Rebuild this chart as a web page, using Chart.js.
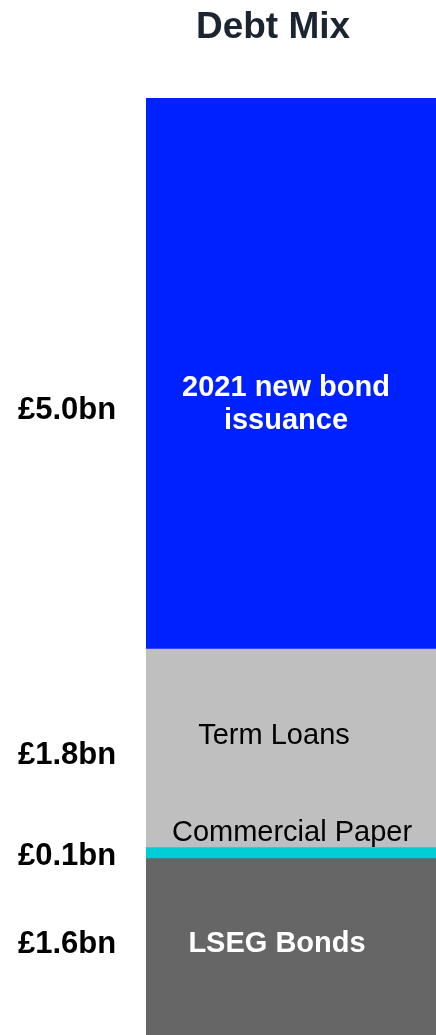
<!DOCTYPE html>
<html>
<head>
<meta charset="utf-8">
<title>Debt Mix</title>
<script src="https://cdn.jsdelivr.net/npm/chart.js@4/dist/chart.umd.min.js"></script>
<style>
  html, body { margin: 0; padding: 0; background: #fff; overflow: hidden; }
  #wrap { width: 436px; height: 1035px; }
</style>
</head>
<body>
<div id="wrap"><canvas id="debtChart" width="436" height="1035"></canvas></div>
<script>
// debt mix data (bottom to top)
const segments = ['LSEG Bonds', 'Commercial Paper', 'Term Loans', '2021 new bond issuance'];
const amounts = [1.6, 0.1, 1.8, 5.0];
const valueLabels = ['£1.6bn', '£0.1bn', '£1.8bn', '£5.0bn'];
const innerLabels = [['LSEG Bonds'], ['Commercial Paper'], ['Term Loans'], ['2021 new bond', 'issuance']];

// styling per segment
const colors = ['#666666', '#00CED4', '#BFBFBF', '#0021FF'];
const textColors = ['#ffffff', '#000000', '#000000', '#ffffff'];
const textBold = [true, false, false, true];
const innerDx = [-14, 1, -17, -5];
const innerDy = [-3, -20, -12, 31];
const valueDy = [-2, 3, 7, 37];

const total = amounts.reduce((a, b) => a + b, 0);

// draws the segment names inside the bar and the amounts to the left
const labelPlugin = {
    id: 'segmentLabels',
    afterDatasetsDraw(chart) {
        const ctx = chart.ctx;
        ctx.save();
        ctx.textAlign = 'center';
        ctx.textBaseline = 'middle';
        chart.data.datasets.forEach((ds, i) => {
            const bar = chart.getDatasetMeta(i).data[0];
            const cy = (bar.y + bar.base) / 2;
            const cx = bar.x;
            const lines = innerLabels[i];
            ctx.fillStyle = textColors[i];
            ctx.font = (textBold[i] ? 'bold ' : '') + '29px "Liberation Sans", Arial, sans-serif';
            const lh = 33;
            lines.forEach((line, j) => {
                const y = cy + innerDy[i] + (j - (lines.length - 1) / 2) * lh;
                ctx.fillText(line, cx + innerDx[i], y);
            });
            ctx.fillStyle = '#000000';
            ctx.font = 'bold 31px "Liberation Sans", Arial, sans-serif';
            ctx.fillText(valueLabels[i], 67, cy + valueDy[i]);
        });
        // title
        ctx.fillStyle = '#1B2431';
        ctx.font = 'bold 37px "Liberation Sans", Arial, sans-serif';
        ctx.fillText('Debt Mix', 273, 28);
        ctx.restore();
    }
};

new Chart(document.getElementById('debtChart').getContext('2d'), {
    type: 'bar',
    data: {
        labels: ['Debt'],
        datasets: segments.map((name, i) => ({
            label: name,
            data: [amounts[i]],
            backgroundColor: colors[i],
            borderWidth: 0,
            barPercentage: 1,
            categoryPercentage: 1
        }))
    },
    options: {
        responsive: false,
        animation: false,
        devicePixelRatio: 1,
        layout: { padding: { top: 98, left: 146, right: 0, bottom: 0 } },
        plugins: { legend: { display: false }, tooltip: { enabled: false }, title: { display: false } },
        scales: {
            x: { stacked: true, display: false },
            y: { stacked: true, display: false, min: 0, max: total }
        }
    },
    plugins: [labelPlugin]
});
</script>
</body>
</html>
